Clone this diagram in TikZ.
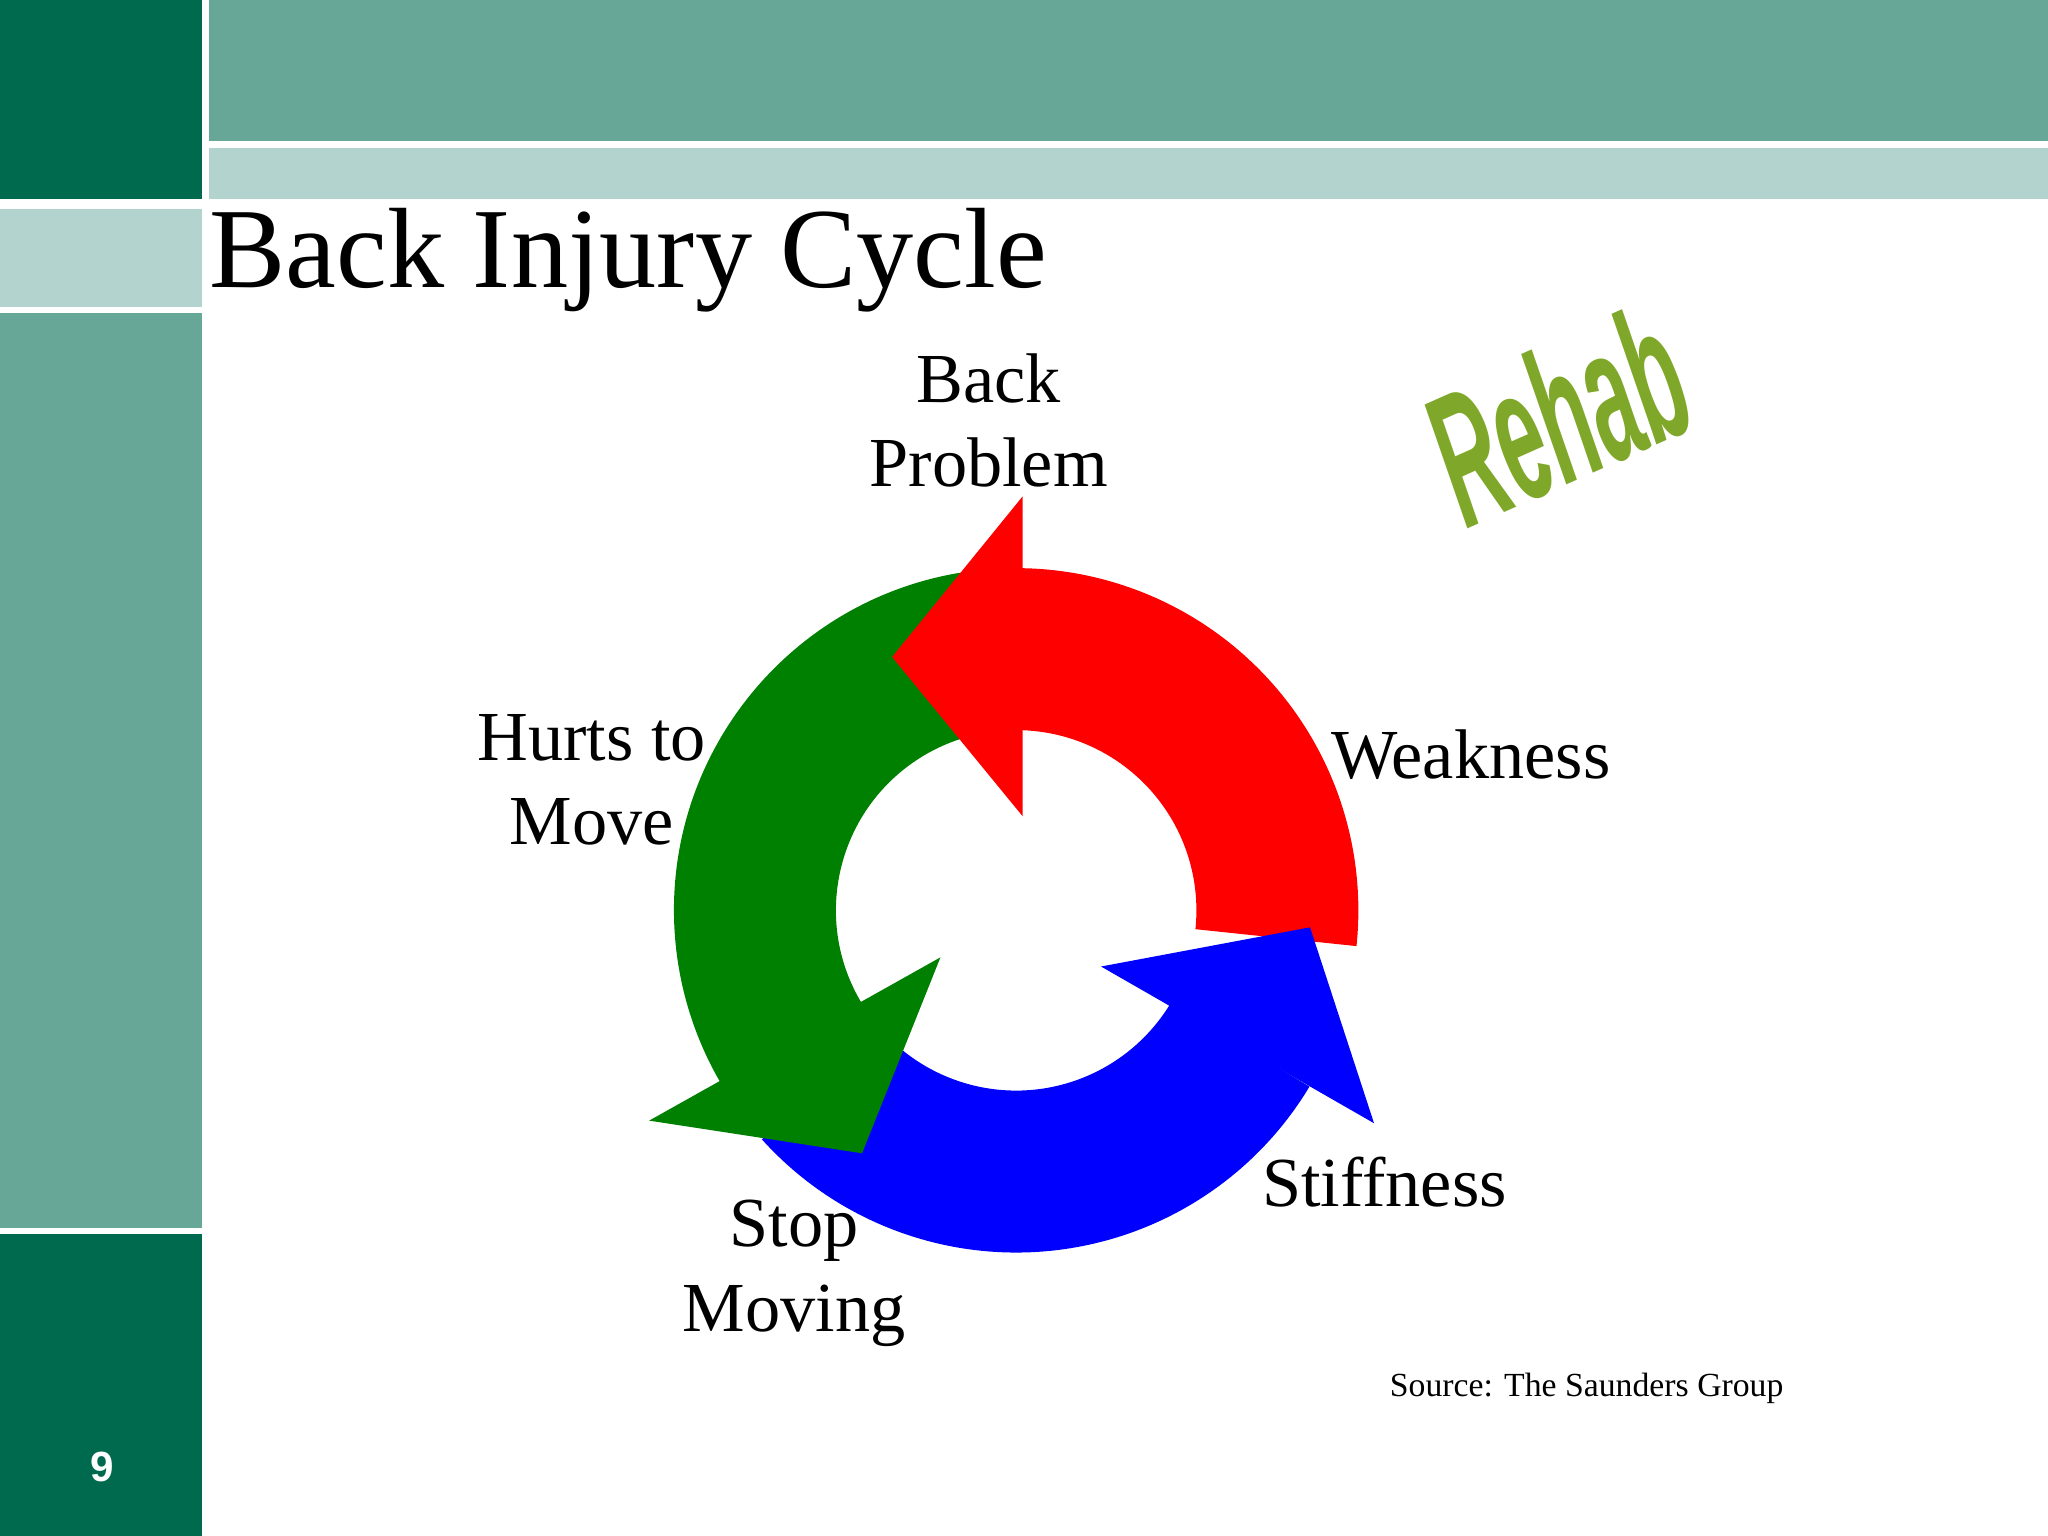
\documentclass[tikz,border=0pt]{standalone}
\usepackage{fontspec}
\usetikzlibrary{calc}
\setmainfont{Liberation Serif}
\newfontfamily\sansf{Liberation Sans}
\definecolor{dkg}{HTML}{006A4E}
\definecolor{mdg}{HTML}{66A797}
\definecolor{ltg}{HTML}{B3D4CE}
\definecolor{rehabg}{HTML}{7FA82A}
\begin{document}
\begin{tikzpicture}[x=0.0130612cm,y=0.0130612cm,
  lbl/.style={font=\fontsize{20}{24}\selectfont,align=center,inner sep=0pt}]
\useasboundingbox (0,0) rectangle (1568,1176);
% side and top bars
\fill[dkg] (0,1176) rectangle (155,1024);
\fill[ltg] (0,1016) rectangle (155,941);
\fill[mdg] (0,936) rectangle (155,236);
\fill[dkg] (0,231) rectangle (155,0);
\fill[mdg] (160,1176) rectangle (1568,1068);
\fill[ltg] (160,1063) rectangle (1568,1024);
\node[font=\sansf\bfseries\fontsize{12}{14}\selectfont,text=white] (pg) at (78,53) {9};
\node[anchor=base west,inner sep=0pt,font=\fontsize{32.5}{38}\selectfont] (title) at (160,956) {Back Injury Cycle};
% ring
\coordinate (c) at (778,479);
\fill[red] (c) ++(-6:262) arc[start angle=-6,end angle=90,radius=262] -- ++(0,-124) arc[start angle=90,end angle=-6,radius=138] -- cycle;
\fill[green!50!black] (c) ++(95:262) arc[start angle=95,end angle=211,radius=262] -- ($(c)+(211:138)$) arc[start angle=211,end angle=95,radius=138] -- cycle;
\fill[blue] (c) ++(222:262) arc[start angle=222,end angle=329,radius=262] -- ($(c)+(329:138)$) arc[start angle=329,end angle=222,radius=138] -- cycle;
\fill[red] (783,796) -- (683,673) -- (783,551) -- cycle;
\fill[blue] (843,436) -- (1003,466) -- (1052,316) -- cycle;
\fill[green!50!black] (720,443) -- (660,293) -- (497,318) -- cycle;
% labels
\node[lbl] (bp) at (757,854) {Back\\Problem};
\node[lbl] (wk) at (1126,598) {Weakness};
\node[lbl] (hm) at (453,579) {Hurts to\\Move};
\node[lbl] (st) at (1060,271) {Stiffness};
\node[lbl] (sm) at (608,201) {Stop\\Moving};
\node[anchor=east,inner sep=0pt,font=\fontsize{9.6}{12}\selectfont] (src) at (1366,113) {Source: The Saunders Group};
% Rehab word art
\node[rotate=24,font=\sansf\bfseries\itshape\fontsize{40}{48}\selectfont,text=rehabg,xscale=0.6,yscale=1.35] (rh) at (1192,858) {Rehab};
\end{tikzpicture}
\end{document}
